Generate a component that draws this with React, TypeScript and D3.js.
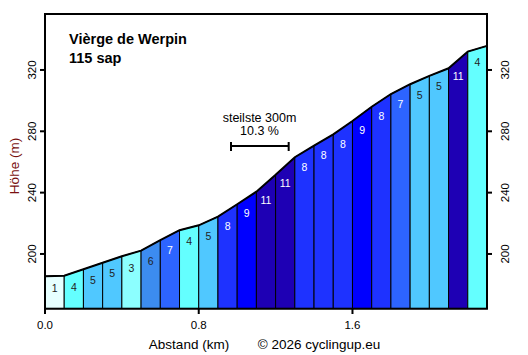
import React from "react";
import * as d3 from "d3";

const distances = [0, 0.1, 0.2, 0.3, 0.4, 0.5, 0.6, 0.7, 0.8, 0.9, 1.0, 1.1, 1.2, 1.3, 1.4, 1.5, 1.6, 1.7, 1.8, 1.9, 2.0, 2.1, 2.2, 2.3];
const elevations = [185.5, 185.8, 190, 194.3, 198.5, 202.2, 209, 215.5, 218.7, 224.3, 232.4, 240.6, 251.6, 263.1, 270.6, 278, 286.7, 296, 304.3, 310.7, 316.1, 321.1, 332, 335.7];
const gradeLabels = [1, 4, 5, 5, 3, 6, 7, 4, 5, 8, 9, 11, 11, 8, 8, 8, 9, 8, 7, 5, 5, 11, 4];
const xTicks = [0, 0.8, 1.6];
const yTicks = [200, 240, 280, 320];
const title = "Vièrge de Werpin";
const subtitle = "115 sap";
const steepStart = 0.968;
const steepEnd = 1.268;

const gradeColor = (g: number) => {
  if (g <= 1) return "#e6ffff";
  if (g <= 3) return "#8cffff";
  if (g <= 4) return "#64ffff";
  if (g <= 5) return "#50c8ff";
  if (g <= 6) return "#3c8cf0";
  if (g <= 7) return "#2d64ff";
  if (g <= 8) return "#1e32ff";
  if (g <= 9) return "#0000ff";
  if (g <= 10) return "#1400d2";
  return "#1e00b4";
};

export default function App() {
  const x = d3.scaleLinear().domain([0, 2.3]).range([45, 487]);
  const y = d3.scaleLinear().domain([164.3, 356.5]).range([308.7, 14]);
  const font = "Liberation Sans, Arial, sans-serif";
  const top = d3.line<number>().x((_, i) => x(distances[i])).y((e) => y(e));

  return (
    <svg width={528} height={355} style={{ position: "absolute", left: 0, top: 0 }} fontFamily={font}>
      <rect x={0} y={0} width={528} height={355} fill="#fff" />
      {gradeLabels.map((g, i) => {
        const x0 = x(distances[i]);
        const x1 = x(distances[i + 1]);
        const y0 = y(elevations[i]);
        const y1 = y(elevations[i + 1]);
        const b = y.range()[0];
        return (
          <g key={i}>
            <path d={`M${x0},${b}L${x0},${y0}L${x1},${y1}L${x1},${b}Z`} fill={gradeColor(g)} stroke="#000" strokeWidth={1} />
          </g>
        );
      })}
      {gradeLabels.map((g, i) => {
        const xm = (x(distances[i]) + x(distances[i + 1])) / 2;
        const yl = y(elevations[i]) + 12.5 - 0.4 * g + 4;
        return (
          <text key={"t" + i} x={xm} y={yl} textAnchor="middle" fontSize={10.5} fill={g >= 7 ? "#fff" : "#222"}>
            {g}
          </text>
        );
      })}
      <path d={top(elevations) || ""} fill="none" stroke="#000" strokeWidth={2} />
      <rect x={45} y={14} width={442} height={294.7} fill="none" stroke="#000" strokeWidth={2} />
      {xTicks.map((t) => (
        <g key={"x" + t}>
          <line x1={x(t)} x2={x(t)} y1={308.7} y2={314} stroke="#000" strokeWidth={2} />
          <text x={x(t)} y={329} textAnchor="middle" fontSize={11.5}>{t.toFixed(1)}</text>
        </g>
      ))}
      {yTicks.map((t) => (
        <g key={"y" + t}>
          <line x1={40} x2={45} y1={y(t)} y2={y(t)} stroke="#000" strokeWidth={2} />
          <line x1={487} x2={492} y1={y(t)} y2={y(t)} stroke="#000" strokeWidth={2} />
          <text transform={`translate(36,${y(t)}) rotate(-90)`} textAnchor="middle" fontSize={11.5}>{t}</text>
          <text transform={`translate(508.5,${y(t)}) rotate(-90)`} textAnchor="middle" fontSize={11.5}>{t}</text>
        </g>
      ))}
      <text transform="translate(18.5,166) rotate(-90)" textAnchor="middle" fontSize={13.5} fill="#7a1010">Höhe (m)</text>
      <text x={189} y={349} textAnchor="middle" fontSize={13.5}>Abstand (km)</text>
      <text x={319} y={349} textAnchor="middle" fontSize={13.5}>© 2026 cyclingup.eu</text>
      <text x={69} y={44} fontSize={14.5} fontWeight="bold">{title}</text>
      <text x={69} y={63} fontSize={14.5} fontWeight="bold">{subtitle}</text>
      <text x={259.5} y={122} textAnchor="middle" fontSize={12.5}>steilste 300m</text>
      <text x={259.5} y={135} textAnchor="middle" fontSize={12.5}>10.3 %</text>
      <line x1={x(steepStart)} x2={x(steepEnd)} y1={146} y2={146} stroke="#000" strokeWidth={2} />
      <line x1={x(steepStart)} x2={x(steepStart)} y1={142} y2={151} stroke="#000" strokeWidth={2} />
      <line x1={x(steepEnd)} x2={x(steepEnd)} y1={142} y2={151} stroke="#000" strokeWidth={2} />
    </svg>
  );
}
